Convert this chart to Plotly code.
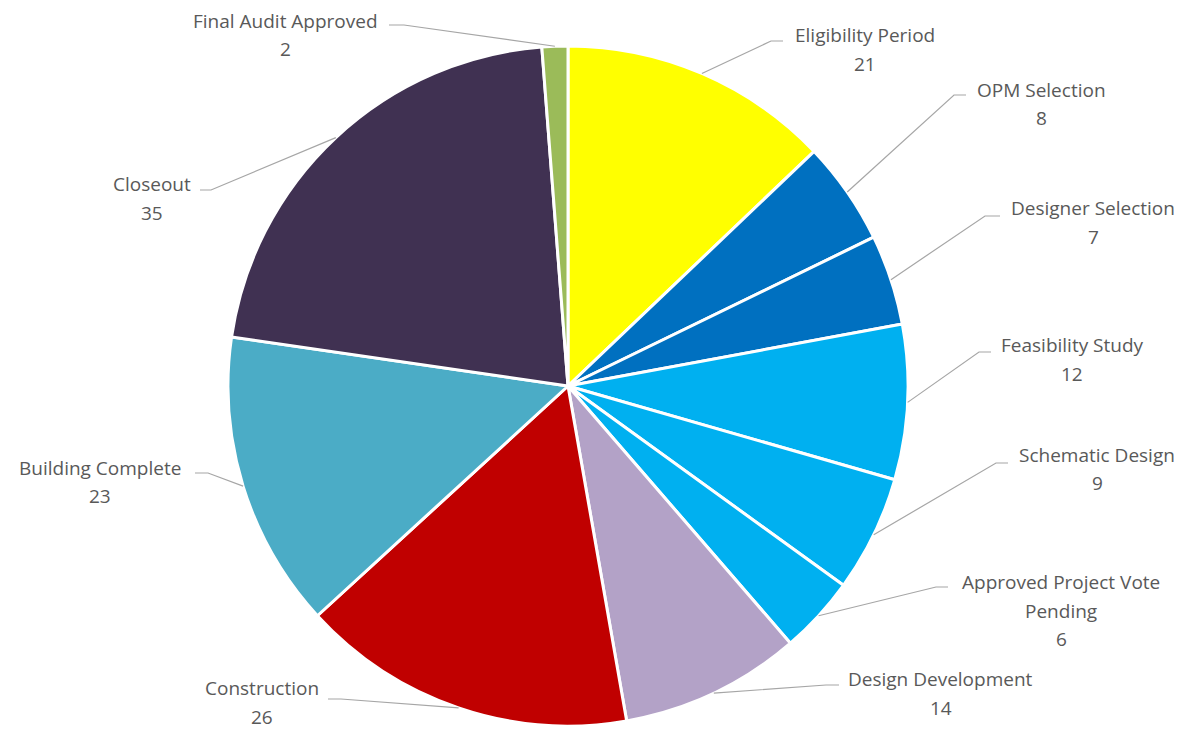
import math
import plotly.graph_objects as go

# ---------------- data ----------------
categories = [
    "Eligibility Period", "OPM Selection", "Designer Selection", "Feasibility Study",
    "Schematic Design", "Approved Project Vote Pending", "Design Development",
    "Construction", "Building Complete", "Closeout", "Final Audit Approved",
]
values = [21, 8, 7, 12, 9, 6, 14, 26, 23, 35, 2]

# ---------------- style / layout ----------------
colors = ["#FFFF00", "#0070C0", "#0070C0", "#00B0F0", "#00B0F0", "#00B0F0",
          "#B3A2C7", "#C00000", "#4BACC6", "#403152", "#9BBB59"]
display_lines = {
    "Approved Project Vote Pending": ["Approved Project Vote", "Pending"],
}
W, H = 1203, 729
CX, CY, R = 568, 386, 340          # pie centre / radius in pixels
LINE_H = 28.5
# label block: (centre x, first line y) in px
label_pos = [(865, 35), (1041, 90), (1093, 208), (1072, 345), (1097, 455),
             (1061, 582), (941, 679), (262, 688), (100, 468), (152, 184), (285, 21)]
# leader: (attach x, attach y, elbow x)
leader_pts = [(783, 41, 771), (966, 95, 954), (1000, 216, 985), (991, 352, 979),
              (1008, 463, 996), (948, 587, 936), (839, 685, 826), (328, 699, 341),
              (195, 473, 208), (200, 190, 211), (389, 25, 404)]
FONT = dict(family="'Open Sans', Lato, sans-serif", size=19, color="#595959")


def px2paper(x, y):
    return x / W, 1 - y / H


fig = go.Figure(go.Pie(
    labels=categories, values=values, sort=False, direction="clockwise", rotation=0,
    marker=dict(colors=colors, line=dict(color="white", width=3)),
    textinfo="none", hoverinfo="label+value", showlegend=False,
    domain=dict(x=[(CX - R) / W, (CX + R) / W], y=[(H - CY - R) / H, (H - CY + R) / H]),
))

total = sum(values)
cum = 0
annotations, shapes = [], []
for i, (cat, v) in enumerate(zip(categories, values)):
    mid = (cum + v / 2) / total * 2 * math.pi
    cum += v
    ex, ey = CX + R * math.sin(mid), CY - R * math.cos(mid)
    ax, ay, elx = leader_pts[i]
    p0 = px2paper(ex, ey)
    p1 = px2paper(elx, ay)
    p2 = px2paper(ax, ay)
    shapes.append(dict(type="path", xref="paper", yref="paper",
                       path=f"M {p0[0]},{p0[1]} L {p1[0]},{p1[1]} L {p2[0]},{p2[1]}",
                       line=dict(color="#A6A6A6", width=1.2)))
    lines = display_lines.get(cat, [cat]) + [str(v)]
    lx, ly = label_pos[i]
    for k, t in enumerate(lines):
        x, y = px2paper(lx, ly + k * LINE_H)
        annotations.append(dict(text=t, x=x, y=y, xref="paper", yref="paper",
                                showarrow=False, xanchor="center", yanchor="middle",
                                font=FONT))

fig.update_layout(width=W, height=H, margin=dict(l=0, r=0, t=0, b=0),
                  paper_bgcolor="white", plot_bgcolor="white",
                  annotations=annotations, shapes=shapes)
fig.write_html("out.html", config={"displayModeBar": False},
               post_script="document.body.style.margin='0';document.body.style.padding='0';")
